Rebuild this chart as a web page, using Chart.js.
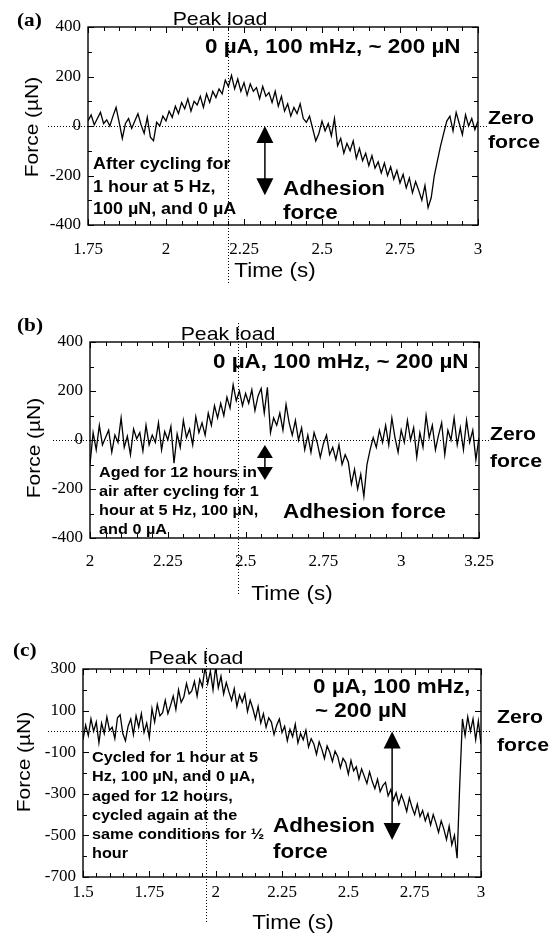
<!DOCTYPE html>
<html>
<head>
<meta charset="utf-8">
<script src="https://cdn.jsdelivr.net/npm/chart.js@4.4.1/dist/chart.umd.min.js"></script>
<style>
html, body { margin: 0; padding: 0; background: #fff; }
#wrap { position: relative; width: 554px; height: 935px; overflow: hidden; }
canvas { position: absolute; left: 0; }
</style>
</head>
<body>
<div id="wrap">
  <canvas id="chartA" width="554" height="300" style="top:0px"></canvas>
  <canvas id="chartB" width="554" height="315" style="top:300px"></canvas>
  <canvas id="chartC" width="554" height="320" style="top:615px"></canvas>
</div>
<script>
// -------------- data (force in uN, sampled every 0.01 s) -------------

const startA = 1.75;
const forceA = [
    20, 45, 5, 30, 55, 10,
    25, 0, 40, 75, 15,
    -50, 10, 30, -10, 20,
    50, 5, -30, 35, -45,
    -60, 15, 0, 40, 20,
    60, 35, 80, 50, 95,
    70, 110, 60, 100, 85,
    120, 75, 130, 95, 140,
    115, 150, 130, 185, 160,
    205, 150, 190, 140, 175,
    125, 170, 140, 155, 110,
    160, 120, 135, 95, 140,
    80, 120, 60, 90, 40,
    75, 50, 90, 30, 15,
    40, -10, -60, -30, 20,
    -20, 10, -40, 30, -80,
    -50, -110, -70, -100, -60,
    -130, -90, -140, -110, -160,
    -120, -170, -145, -190, -150,
    -200, -165, -215, -180, -230,
    -195, -250, -210, -270, -225,
    -260, -300, -240, -330, -290,
    -200, -140, -80, -30, 20,
    40, -20, 55, 10, -35,
    45, 0, 30, -15, 20
];

const startB = 2.0;
const forceB = [
    -100, 30, -40, 60, -20, 10,
    40, -50, 20, -10, 90,
    -30, 15, -60, 45, 5,
    30, -45, 60, -20, 20,
    -10, 70, -40, 35, 0,
    55, -95, 25, -30, 80,
    10, 45, -20, 95, 30,
    70, 20, 110, 60, 140,
    90, 150, 100, 175, 130,
    225, 160, 200, 140, 190,
    150, 205, 120, 180, 210,
    110, 215, 30, 90, 60,
    110, 40, 145, 70, 20,
    80, 0, 50, -40, 20,
    -50, 30, -10, -70, -15,
    20, -60, -30, -80, -20,
    -100, -60, -90, -180, -120,
    -200, -140, -230, -100, -40,
    10, -30, 40, -10, 60,
    -20, 90, 10, -50, 40,
    -10, 80, 0, 50, -70,
    30, -30, 100, 10, 60,
    -40, 20, 70, -60, 40,
    0, 90, -20, 50, -40,
    80, -10, 40, -80, 10
];

const startC = 1.5;
const forceC = [
    -40,
    30, -20, 60, 0, 45,
    -55, 40, -10, 70, 5,
    20, -35, 65, 80, -10,
    -45, 25, 60, -15, 75,
    20, 85, -5, 40, -30,
    110, 45, 130, 75, 90,
    150, 85, 125, 170, 105,
    200, 140, 165, 230, 180,
    195, 240, 170, 250, 215,
    310, 230, 290, 200, 310,
    210, 265, 180, 235, 190,
    150, 205, 120, 175, 140,
    180, 95, 150, 110, 60,
    120, 40, 85, 20, 65,
    45, -15, 30, 60, -5,
    25, -45, 10, -25, 35,
    -55, -10, -40, 5, -75,
    -35, -60, -110, -50, -85,
    -130, -70, -100, -145, -95,
    -120, -175, -130, -150, -205,
    -140, -190, -170, -230, -180,
    -215, -250, -195, -240, -275,
    -230, -290, -260, -245, -310,
    -280, -330, -295, -350, -305,
    -340, -385, -320, -365, -400,
    -350, -410, -380, -430, -395,
    -450, -400, -440, -485, -430,
    -470, -520, -455, -545, -500,
    -610, -250, 60, -20, 70,
    0, 60, -40, 50, -60
];

const xLabelsA = ['1.75', '2', '2.25', '2.5', '2.75', '3'];
const xLabelsB = ['2', '2.25', '2.5', '2.75', '3', '3.25'];
const xLabelsC = ['1.5', '1.75', '2', '2.25', '2.5', '2.75', '3'];
const yLabelsAB = ['-400', '-200', '0', '200', '400'];
const yLabelsC = ['-700', '-500', '-300', '-100', '100', '300'];

// peak load time and adhesion arrow (time, from, to) for each panel
const peakA = 2.2, arrowA = [2.317, 0, -280];
const peakB = 2.476, arrowB = [2.562, -20, -163];
const peakC = 1.964, arrowC = [2.665, 0, -522];

// -------------- drawing helpers -------------

const SANS = '"Liberation Sans", Arial, sans-serif';
const SERIF = '"Liberation Serif", "Times New Roman", serif';
const SX = 1.12; // the source figure is a bit stretched horizontally

function toPoints(t0, arr) {
    return arr.map((y, i) => ({ x: +(t0 + i * 0.01).toFixed(2), y }));
}

function text(ctx, str, x, y, font, align) {
    ctx.save();
    ctx.font = font;
    ctx.textAlign = 'left';
    ctx.textBaseline = 'alphabetic';
    const w = ctx.measureText(str).width * SX;
    const x0 = align === 'center' ? x - w / 2 : x;
    ctx.translate(x0, y);
    ctx.scale(SX, 1);
    ctx.fillStyle = '#000';
    ctx.fillText(str, 0, 0);
    ctx.restore();
}

function arrowHead(ctx, x, y, dir, w, h) {
    ctx.beginPath();
    ctx.moveTo(x, y);
    ctx.lineTo(x - w / 2, y + dir * h);
    ctx.lineTo(x + w / 2, y + dir * h);
    ctx.closePath();
    ctx.fill();
}

function makeDecor(spec) {
    return {
        id: 'decor',
        beforeDatasetsDraw(chart) {
            const ctx = chart.ctx;
            const xs = chart.scales.x, ys = chart.scales.y;
            ctx.save();
            ctx.strokeStyle = '#000';
            ctx.lineWidth = 1;
            ctx.setLineDash([1, 2]);
            // zero force line
            const y0 = Math.round(ys.getPixelForValue(0)) + 0.5;
            ctx.beginPath();
            ctx.moveTo(spec.zeroFrom, y0);
            ctx.lineTo(spec.zeroTo, y0);
            ctx.stroke();
            // peak load line
            const px = Math.round(xs.getPixelForValue(spec.peak)) + 0.5;
            ctx.beginPath();
            ctx.moveTo(px, spec.peakFrom);
            ctx.lineTo(px, spec.peakTo);
            ctx.stroke();
            ctx.restore();
        },
        afterDraw(chart) {
            const ctx = chart.ctx;
            const { left, right, top, bottom } = chart.chartArea;
            const xs = chart.scales.x, ys = chart.scales.y;
            ctx.save();
            ctx.strokeStyle = '#000';
            ctx.fillStyle = '#000';
            ctx.lineWidth = 1;
            // inward ticks on all four sides
            ctx.beginPath();
            const nx = Math.round((xs.max - xs.min) / 0.05);
            for (let k = 0; k <= nx; k++) {
                const p = Math.round(xs.getPixelForValue(xs.min + k * 0.05)) + 0.5;
                const len = k % 5 === 0 ? 6 : 4;
                ctx.moveTo(p, bottom); ctx.lineTo(p, bottom - len);
                ctx.moveTo(p, top); ctx.lineTo(p, top + len);
            }
            const ny = Math.round((ys.max - ys.min) / 100);
            for (let k = 0; k <= ny; k++) {
                const p = Math.round(ys.getPixelForValue(ys.min + k * 100)) + 0.5;
                const len = k % 2 === 0 ? 6 : 4;
                ctx.moveTo(left, p); ctx.lineTo(left + len, p);
                ctx.moveTo(right, p); ctx.lineTo(right - len, p);
            }
            ctx.stroke();
            // frame
            ctx.lineWidth = 1.4;
            ctx.strokeRect(left, top, right - left, bottom - top);

            // adhesion force arrow
            const [at, af, ato] = spec.arrow;
            const ax = xs.getPixelForValue(at);
            const ay1 = ys.getPixelForValue(af), ay2 = ys.getPixelForValue(ato);
            ctx.lineWidth = 1.5;
            ctx.beginPath();
            ctx.moveTo(ax, ay1 + 4);
            ctx.lineTo(ax, ay2 - 4);
            ctx.stroke();
            arrowHead(ctx, ax, ay1, 1, spec.headW, spec.headH);
            arrowHead(ctx, ax, ay2, -1, spec.headW, spec.headH);

            // texts
            spec.texts.forEach(t => text(ctx, t[0], t[1], t[2], t[3], t[4]));

            // axis titles
            ctx.save();
            ctx.font = '19px ' + SANS;
            ctx.textAlign = 'center';
            ctx.textBaseline = 'middle';
            ctx.translate(spec.forceX, spec.forceY);
            ctx.rotate(-Math.PI / 2);
            ctx.scale(1.1, 1);
            ctx.fillText('Force (\u00b5N)', 0, 0);
            ctx.restore();
            text(ctx, 'Time (s)', spec.timeX, spec.timeY, '20px ' + SANS, 'center');
            ctx.restore();
        }
    };
}

function makePanel(id, pts, xLabels, yLabels, box, spec) {
    const xVals = xLabels.map(Number), yVals = yLabels.map(Number);
    return new Chart(document.getElementById(id), {
        type: 'line',
        data: {
            datasets: [{
                data: pts,
                borderColor: '#000',
                borderWidth: 1.3,
                pointRadius: 0,
                tension: 0
            }]
        },
        options: {
            responsive: false,
            animation: false,
            devicePixelRatio: 1,
            layout: { padding: box.padding },
            plugins: { legend: { display: false }, tooltip: { enabled: false } },
            scales: {
                x: {
                    type: 'linear',
                    min: xVals[0],
                    max: xVals[xVals.length - 1],
                    grid: { display: false, drawTicks: false },
                    border: { display: false },
                    ticks: {
                        color: '#000',
                        font: { family: SERIF, size: 17 },
                        padding: box.xPad,
                        maxRotation: 0,
                        autoSkip: false,
                        callback: (v, i) => xLabels[i]
                    },
                    afterBuildTicks: s => { s.ticks = xVals.map(v => ({ value: v })); },
                    afterFit: s => { s.height = 40; }
                },
                y: {
                    min: yVals[0],
                    max: yVals[yVals.length - 1],
                    grid: { display: false, drawTicks: false },
                    border: { display: false },
                    ticks: {
                        color: '#000',
                        font: { family: SERIF, size: 17 },
                        padding: 7,
                        autoSkip: false,
                        callback: (v, i) => yLabels[i]
                    },
                    afterBuildTicks: s => { s.ticks = yVals.map(v => ({ value: v })); },
                    afterFit: s => { s.width = box.yWidth; }
                }
            }
        },
        plugins: [makeDecor(spec)]
    });
}

const B19 = 'bold 19px ' + SANS;
const B20 = 'bold 20px ' + SANS;
const TAG = 'bold 19px ' + SERIF;

makePanel('chartA', toPoints(startA, forceA), xLabelsA, yLabelsAB,
    { padding: { left: 0, top: 27, right: 76, bottom: 35 }, yWidth: 88, xPad: 14 },
    {
        peak: peakA, peakFrom: 18, peakTo: 283, zeroFrom: 48, zeroTo: 488,
        arrow: arrowA, headW: 17, headH: 17,
        forceX: 33, forceY: 127, timeX: 275, timeY: 277,
        texts: [
            ['(a)', 17, 26, TAG],
            ['Peak load', 220, 25, '19px ' + SANS, 'center'],
            ['0 \u00b5A, 100 mHz, ~ 200 \u00b5N', 205, 53, B20],
            ['Zero', 488, 124, B19],
            ['force', 488, 148, B19],
            ['After cycling for', 93, 169, 'bold 16px ' + SANS],
            ['1 hour at 5 Hz,', 93, 192, 'bold 16px ' + SANS],
            ['100 \u00b5N, and 0 \u00b5A', 93, 214, 'bold 16px ' + SANS],
            ['Adhesion', 283, 195, B20],
            ['force', 283, 219, B20]
        ]
    });

makePanel('chartB', toPoints(startB, forceB), xLabelsB, yLabelsAB,
    { padding: { left: 0, top: 42, right: 75, bottom: 37 }, yWidth: 90, xPad: 13 },
    {
        peak: peakB, peakFrom: 23, peakTo: 295, zeroFrom: 53, zeroTo: 490,
        arrow: arrowB, headW: 16, headH: 13,
        forceX: 35, forceY: 148, timeX: 292, timeY: 300,
        texts: [
            ['(b)', 17, 31, TAG],
            ['Peak load', 228, 40, '19px ' + SANS, 'center'],
            ['0 \u00b5A, 100 mHz, ~ 200 \u00b5N', 213, 68, B20],
            ['Zero', 490, 140, B19],
            ['force', 490, 167, B19],
            ['Aged for 12 hours in', 99, 177, 'bold 14.5px ' + SANS],
            ['air after cycling for 1', 99, 196, 'bold 14.5px ' + SANS],
            ['hour at 5 Hz, 100 \u00b5N,', 99, 215, 'bold 14.5px ' + SANS],
            ['and 0 \u00b5A', 99, 234, 'bold 14.5px ' + SANS],
            ['Adhesion force', 283, 218, B20]
        ]
    });

makePanel('chartC', toPoints(startC, forceC), xLabelsC, yLabelsC,
    { padding: { left: 0, top: 54, right: 73, bottom: 18 }, yWidth: 83, xPad: 5 },
    {
        peak: peakC, peakFrom: 33, peakTo: 307, zeroFrom: 48, zeroTo: 492,
        arrow: arrowC, headW: 17, headH: 17,
        forceX: 25, forceY: 147, timeX: 293, timeY: 314,
        texts: [
            ['(c)', 13, 41, TAG],
            ['Peak load', 196, 49, '19px ' + SANS, 'center'],
            ['0 \u00b5A, 100 mHz,', 313, 78, B20],
            ['~ 200 \u00b5N', 315, 102, B20],
            ['Zero', 497, 108, B19],
            ['force', 497, 136, B19],
            ['Cycled for 1 hour at 5', 92, 147, 'bold 14.5px ' + SANS],
            ['Hz, 100 \u00b5N, and 0 \u00b5A,', 92, 166, 'bold 14.5px ' + SANS],
            ['aged for 12 hours,', 92, 186, 'bold 14.5px ' + SANS],
            ['cycled again at the', 92, 205, 'bold 14.5px ' + SANS],
            ['same conditions for \u00bd', 92, 224, 'bold 14.5px ' + SANS],
            ['hour', 92, 243, 'bold 14.5px ' + SANS],
            ['Adhesion', 273, 217, B20],
            ['force', 273, 243, B20]
        ]
    });
</script>
</body>
</html>
